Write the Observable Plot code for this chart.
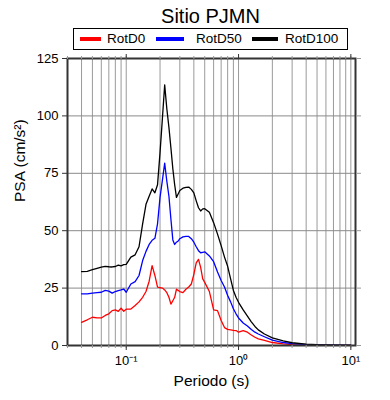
<!DOCTYPE html>
<html>
<head>
<meta charset="utf-8">
<script src="https://cdn.jsdelivr.net/npm/d3@7"></script>
<script src="https://cdn.jsdelivr.net/npm/@observablehq/plot@0.6"></script>
<style>
  body { margin: 0; background: #fff; font-family: "Liberation Sans", Arial, sans-serif; }
  #wrap { position: relative; width: 390px; height: 400px; overflow: hidden; }
  #title { position: absolute; left: 0; top: 5px; width: 421px; text-align: center; font-size: 20px; color: #000; }
  #legend { position: absolute; left: 73px; top: 28px; width: 273px; height: 20px; border: 1.5px solid #000; background: #fff; }
  .sw { position: absolute; top: 8px; height: 4px; }
  .lt { position: absolute; top: 2px; font-size: 13.5px; line-height: 16px; color: #000; white-space: nowrap; }
  #chart { position: absolute; left: 0; top: 52px; }
</style>
</head>
<body>
<div id="wrap">
  <div id="title"></div>
  <div id="legend"></div>
  <div id="chart"></div>
</div>
<script>
const titleText = "Sitio PJMN";
const seriesNames = ["RotD0", "RotD50", "RotD100"];
const seriesColors = ["#ff0000", "#0000ff", "#000000"];

const periods = [0.04, 0.045, 0.05, 0.055, 0.06, 0.065, 0.07, 0.075, 0.08, 0.085, 0.09, 0.095, 0.1,
  0.11, 0.12, 0.13, 0.14, 0.15, 0.16, 0.17, 0.18, 0.19, 0.2, 0.21, 0.22, 0.23, 0.24, 0.25, 0.26, 0.27, 0.28, 0.29, 0.3,
  0.32, 0.34, 0.36, 0.38, 0.4, 0.42, 0.44, 0.46, 0.48, 0.5, 0.55, 0.6, 0.65, 0.7, 0.75, 0.8, 0.85, 0.9, 0.95, 1.0,
  1.1, 1.2, 1.3, 1.4, 1.5, 1.7, 2.0, 2.5, 3.0, 4.0, 5.0, 6.0, 7.5, 10];

const rotD0 = [10.1, 11.2, 12.3, 12.0, 12.0, 13.1, 13.8, 15.2, 15.5, 14.9, 16.2, 14.9, 15.8,
  15.9, 17.4, 19.0, 21.0, 23.5, 28.0, 34.8, 30.5, 25.4, 25.2, 25.0, 24.2, 23.0, 21.0, 18.0, 19.5, 21.0, 24.5, 24.0, 23.5,
  23.0, 24.5, 25.5, 26.8, 31.0, 36.0, 37.5, 34.0, 29.0, 27.5, 23.5, 15.5, 15.2, 10.9, 7.8, 7.0, 6.8, 6.6, 6.5, 5.8,
  6.5, 5.8, 4.6, 3.6, 2.9, 2.2, 1.3, 0.7, 0.35, 0.15, 0.1, 0.05, 0.03, 0.02];

const rotD50 = [22.5, 22.5, 22.8, 23.0, 23.2, 24.0, 23.7, 22.8, 23.5, 23.9, 24.2, 24.6, 23.2,
  26.8, 27.8, 30.5, 37.0, 41.0, 44.0, 45.8, 46.7, 53.0, 64.5, 72.0, 79.4, 71.5, 65.0, 55.0, 46.0, 44.0, 45.0, 45.5, 46.5,
  47.3, 47.5, 47.5, 46.5, 45.0, 43.0, 41.3, 40.4, 40.6, 40.8, 39.0, 36.5, 32.0, 28.3, 25.5, 21.8, 19.0, 16.0, 13.8, 12.0,
  9.8, 8.5, 7.0, 5.8, 5.0, 3.8, 2.3, 1.3, 0.8, 0.4, 0.25, 0.2, 0.1, 0.05];

const rotD100 = [32.2, 32.3, 33.0, 33.6, 34.1, 34.5, 34.3, 34.2, 34.4, 35.0, 34.7, 35.2, 35.3,
  38.5, 39.5, 43.0, 53.0, 61.5, 65.0, 68.2, 66.5, 70.0, 84.0, 99.0, 113.5, 103.0, 95.0, 86.0, 77.0, 70.0, 64.5, 66.0, 67.5,
  68.5, 68.9, 69.0, 68.0, 66.5, 63.0, 60.0, 58.6, 59.5, 59.6, 58.0, 53.5, 48.5, 43.5, 38.5, 34.5, 29.0, 24.0, 21.0, 18.8,
  15.5, 12.8, 10.3, 8.3, 6.8, 5.0, 3.3, 2.0, 1.2, 0.6, 0.35, 0.25, 0.15, 0.1];

const yTicks = [0, 25, 50, 75, 100, 125];
const yGrid = [25, 50, 75, 100];
const xMajor = [0.1, 1, 10];
const xMajorLabels = ["10\u207B\u00B9", "10\u2070", "10\u00B9"];
const xLabel = "Periodo (s)";
const yLabel = "PSA (cm/s\u00B2)";
const xDomain = [0.03, 11];
const yDomain = [0, 125];

// minor log ticks within domain
const xMinor = [];
for (let d = -2; d <= 1; d++) for (let k = 1; k <= 9; k++) {
  const v = +(k * Math.pow(10, d)).toPrecision(6);
  if (v >= xDomain[0] && v <= xDomain[1]) xMinor.push(v);
}

const allSeries = [rotD0, rotD50, rotD100];
const rows = [];
allSeries.forEach((arr, s) => periods.forEach((p, i) => rows.push({period: p, value: arr[i], series: seriesNames[s]})));

document.getElementById("title").textContent = titleText;

// legend
const legend = document.getElementById("legend");
const swPos = [[6, 21, 33], [82, 28, 122], [178, 26, 211]];
seriesNames.forEach((n, i) => {
  const sw = document.createElement("div");
  sw.className = "sw";
  sw.style.left = swPos[i][0] + "px";
  sw.style.width = swPos[i][1] + "px";
  sw.style.background = seriesColors[i];
  legend.appendChild(sw);
  const t = document.createElement("div");
  t.className = "lt";
  t.style.left = swPos[i][2] + "px";
  t.textContent = n;
  legend.appendChild(t);
});

const chart = Plot.plot({
  width: 390,
  height: 348,
  marginTop: 6,
  marginBottom: 55,
  marginLeft: 67,
  marginRight: 35,
  style: {fontFamily: "Liberation Sans, Arial, sans-serif", fontSize: "13px", color: "#000", background: "#fff"},
  x: {type: "log", domain: xDomain},
  y: {domain: yDomain},
  color: {domain: seriesNames, range: seriesColors},
  marks: [
    Plot.gridX(xMinor, {stroke: "#9a9a9a", strokeOpacity: 1, strokeWidth: 1}),
    Plot.gridY(yGrid, {stroke: "#8a8a8a", strokeOpacity: 1, strokeWidth: 1}),
    Plot.line(rows, {x: "period", y: "value", z: "series", stroke: "series", strokeWidth: 1.3}),
    Plot.frame({stroke: "#333", strokeWidth: 2}),
    Plot.axisX(xMinor, {anchor: "bottom", tickSize: 3, tickFormat: () => "", stroke: "#999", label: null}),
    Plot.axisX(xMajor, {anchor: "bottom", tickSize: 5, tickPadding: 5, fontSize: 13, stroke: "#333",
      tickFormat: d => xMajorLabels[xMajor.indexOf(d)], label: null}),
    Plot.axisX(xMinor, {anchor: "top", tickSize: 3, tickFormat: () => "", stroke: "#999", label: null}),
    Plot.axisX(xMajor, {anchor: "top", tickSize: 5, tickFormat: () => "", stroke: "#333", label: null}),
    Plot.axisY(yTicks, {anchor: "left", tickSize: 5, tickPadding: 4, fontSize: 13, stroke: "#333", label: null}),
    Plot.axisY(yTicks, {anchor: "right", tickSize: 5, tickFormat: () => "", stroke: "#999", label: null}),
    Plot.text([xLabel], {frameAnchor: "bottom", dy: 40, fontSize: 15.5, fill: "#000"}),
    Plot.text([yLabel], {frameAnchor: "left", dx: -47, rotate: -90, fontSize: 15.5, fill: "#000"})
  ]
});
document.getElementById("chart").appendChild(chart);
</script>
</body>
</html>
